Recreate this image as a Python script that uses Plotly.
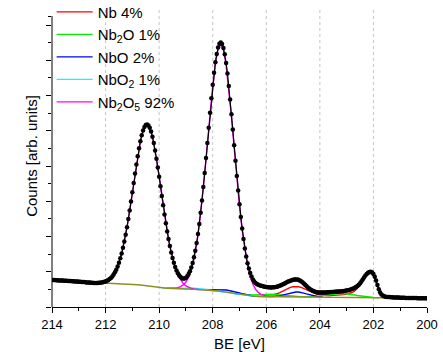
import numpy as np
import plotly.graph_objects as go

# ---------------- data (binding energy grid 214 -> 200 eV) ----------------
be_first, be_last = 214.0, 200.0

# measured spectrum, 0.05 eV steps (arb. units)
counts = [
    27.0, 26.9, 26.9, 26.8, 26.7, 26.6, 26.6, 26.5, 26.4, 26.3,
    26.3, 26.2, 26.1, 26.0, 25.9, 25.8, 25.7, 25.6, 25.5, 25.4,
    25.3, 25.2, 25.1, 25.0, 24.9, 24.7, 24.6, 24.5, 24.4, 24.3,
    24.2, 24.1, 24.1, 24.1, 24.1, 24.2, 24.3, 24.5, 24.8, 25.2,
    25.6, 26.2, 27.0, 28.0, 29.1, 30.6, 32.5, 34.7, 37.3, 40.6,
    44.3, 48.7, 53.6, 59.2, 65.4, 72.3, 79.8, 87.9, 96.5, 105.5,
    114.7, 124.1, 133.4, 142.4, 150.8, 158.8, 165.8, 171.7, 176.5, 180.0,
    182.0, 182.6, 181.6, 179.2, 175.4, 170.3, 164.0, 156.6, 148.3, 139.6,
    130.3, 120.8, 111.1, 101.7, 92.5, 83.7, 75.6, 67.9, 60.9, 54.6,
    49.1, 44.2, 40.0, 36.6, 33.7, 31.5, 29.9, 28.8, 28.5, 28.6,
    29.3, 30.7, 32.9, 35.8, 39.4, 44.0, 49.7, 56.2, 64.0, 72.9,
    83.1, 94.3, 106.5, 120.0, 134.1, 148.9, 164.1, 179.3, 194.3, 208.8,
    222.2, 234.3, 244.7, 253.1, 259.4, 263.2, 264.4, 263.0, 259.1, 252.7,
    244.1, 233.4, 221.0, 207.4, 192.7, 177.4, 161.8, 146.3, 131.1, 116.6,
    102.8, 90.1, 78.4, 67.9, 58.6, 50.6, 43.7, 38.5, 34.0, 30.5,
    27.5, 25.5, 24.0, 23.0, 22.3, 21.8, 21.3, 20.9, 20.5, 20.2,
    20.0, 19.8, 19.7, 19.6, 19.6, 19.7, 19.8, 20.0, 20.3, 20.7,
    21.2, 21.8, 22.4, 23.1, 23.8, 24.5, 25.2, 25.8, 26.3, 26.8,
    27.2, 27.5, 27.6, 27.5, 27.2, 26.6, 25.8, 24.7, 23.5, 22.2,
    20.9, 19.6, 18.5, 17.5, 16.7, 16.0, 15.5, 15.1, 14.8, 14.6,
    14.5, 14.4, 14.4, 14.4, 14.5, 14.6, 14.7, 14.8, 14.9, 15.0,
    15.1, 15.2, 15.3, 15.4, 15.5, 15.6, 15.7, 15.8, 16.0, 16.2,
    16.4, 16.7, 17.0, 17.4, 17.9, 18.5, 19.2, 20.0, 21.0, 22.3,
    23.8, 25.6, 27.5, 29.5, 31.4, 33.0, 34.2, 35.0, 35.3, 34.6,
    33.0, 30.3, 26.5, 22.0, 17.8, 14.6, 12.6, 11.4, 10.7, 10.3,
    10.1, 10.0, 9.9, 9.8, 9.7, 9.6, 9.5, 9.5, 9.4, 9.4,
    9.3, 9.3, 9.2, 9.2, 9.1, 9.1, 9.0, 9.0, 9.0, 8.9,
    8.9, 8.9, 8.9, 8.8, 8.8, 8.8, 8.8, 8.7, 8.7, 8.7,
    8.7,
]

# Shirley-type background, 0.1 eV steps
background = [
    27.0, 26.9, 26.7, 26.6, 26.4, 26.3, 26.1, 25.9, 25.7, 25.5,
    25.3, 25.1, 24.9, 24.6, 24.4, 24.2, 24.0, 23.8, 23.8, 23.8,
    23.8, 23.8, 23.7, 23.7, 23.6, 23.6, 23.5, 23.4, 23.2, 23.0,
    22.8, 22.6, 22.3, 22.0, 21.6, 21.3, 20.9, 20.5, 20.2, 19.8,
    19.5, 19.2, 19.0, 18.8, 18.6, 18.4, 18.3, 18.2, 18.1, 18.0,
    17.9, 17.8, 17.7, 17.6, 17.5, 17.4, 17.3, 17.2, 17.0, 16.8,
    16.6, 16.3, 16.0, 15.6, 15.2, 14.8, 14.3, 13.9, 13.4, 13.0,
    12.5, 12.0, 11.6, 11.2, 10.9, 10.7, 10.6, 10.5, 10.5, 10.4,
    10.4, 10.4, 10.4, 10.3, 10.3, 10.3, 10.3, 10.2, 10.2, 10.2,
    10.2, 10.1, 10.1, 10.1, 10.0, 10.0, 10.0, 10.0, 9.9, 9.9,
    9.9, 9.9, 9.8, 9.8, 9.7, 9.7, 9.7, 9.6, 9.6, 9.6,
    9.6, 9.5, 9.5, 9.5, 9.5, 9.5, 9.4, 9.4, 9.4, 9.3,
    9.3, 9.2, 9.2, 9.1, 9.1, 9.1, 9.1, 9.0, 9.0, 9.0,
    9.0, 9.0, 8.9, 8.9, 8.9, 8.9, 8.9, 8.8, 8.8, 8.8,
    8.8,
]

# fitted components (height above background), 0.1 eV steps from the given start BE
nb2o5_32_from = 212.4
nb2o5_32 = [
    0.14, 0.27, 0.54, 1.0, 1.8, 3.2, 5.4, 8.8, 13.7, 20.7,
    30.1, 42.0, 56.6, 73.5, 91.9, 110.8, 128.5, 143.8, 154.9, 160.7,
    160.7, 154.9, 143.8, 128.5, 110.8, 91.9, 73.5, 56.6, 42.0, 30.1,
    20.7, 13.7, 8.8, 5.4, 3.2, 1.8, 1.0, 0.54, 0.27, 0.14,
]
nb2o5_52_from = 209.7
nb2o5_52 = [
    0.06, 0.13, 0.28, 0.58, 1.15, 2.2, 4.1, 7.1, 12.1, 19.5,
    30.4, 45.2, 64.6, 88.4, 116.1, 146.3, 176.6, 204.5, 227.1, 241.9,
    247.0, 241.9, 227.1, 204.5, 176.6, 146.3, 116.1, 88.4, 64.6, 45.2,
    30.4, 19.5, 12.1, 7.1, 4.1, 2.2, 1.15, 0.58, 0.28, 0.13,
    0.06,
]
nb_from = 206.5
nb_metal = [
    0.2, 0.2, 0.2, 0.3, 0.4, 0.6, 0.9, 1.4, 2.0, 2.9,
    4.0, 5.4, 6.8, 8.2, 9.4, 10.1, 10.4, 10.2, 9.5, 8.4,
    7.1, 5.8, 4.6, 3.6, 2.8, 2.3, 1.9, 1.8, 1.7, 1.7,
    1.8, 2.0, 2.2, 2.5, 2.8, 3.3, 4.0, 5.0, 6.5, 8.8,
    12.0, 16.2, 21.5, 24.0, 25.2, 23.5, 15.6, 6.7, 2.8, 1.4,
    0.9, 0.7, 0.5, 0.4, 0.35, 0.3, 0.25, 0.2, 0.15, 0.1, 0.1,
]
nbo_from = 208.6
nbo = [
    0.08, 0.14, 0.22, 0.34, 0.51, 0.72, 0.96, 1.24, 1.5, 1.8,
    2.0, 2.15, 2.2, 2.15, 2.0, 1.8, 1.5, 1.24, 0.96, 0.72,
    0.51, 0.34, 0.22, 0.14, 0.08, 0.05, 0.06, 0.09, 0.15, 0.3,
    0.6, 1.0, 1.6, 2.3, 3.1, 3.9, 4.6, 4.95, 4.95, 4.6,
    3.9, 3.1, 2.3, 1.6, 1.0, 0.6, 0.3, 0.15,
]
nb2o_from = 207.2
nb2o = [
    0.12, 0.2, 0.3, 0.44, 0.62, 0.85, 1.1, 1.4, 1.7, 1.97,
    2.2, 2.4, 2.49, 2.49, 2.4, 2.2, 1.97, 1.7, 1.4, 1.1,
    0.85, 0.62, 0.44, 0.3, 0.23, 0.17, 0.17, 0.2, 0.25, 0.39,
    0.58, 0.84, 1.17, 1.56, 2.0, 2.47, 2.94, 3.37, 3.71, 3.92,
    4.0, 3.92, 3.71, 3.37, 2.94, 2.47, 2.0, 1.56, 1.17, 0.84,
    0.58, 0.39, 0.25, 0.15, 0.09,
]
nbo2_from = 209.9
nbo2 = [
    0.03, 0.05, 0.1, 0.18, 0.28, 0.43, 0.6, 0.79, 0.97, 1.11,
    1.19, 1.19, 1.11, 0.97, 0.79, 0.6, 0.43, 0.28, 0.18, 0.1,
    0.05, 0.03, 0.02, 0.01, 0.01, 0.01, 0.01, 0.02, 0.03, 0.06,
    0.11, 0.19, 0.29, 0.42, 0.58, 0.73, 0.87, 0.97, 1.0, 0.97,
    0.87, 0.73, 0.58, 0.42, 0.29, 0.19, 0.11, 0.06, 0.03,
]

x_ticks = [214, 212, 210, 208, 206, 204, 202, 200]
grid_at = [212, 210, 208, 206, 204, 202]
y_major = [0, 35.25, 70.5, 105.75, 141, 176.25, 211.5, 246.75, 282]
y_minor = [17.6, 52.9, 88.1, 123.4, 158.6, 193.9, 229.1, 264.4, 291]
y_axis_top = 291
y_top = 302

# ---------------- build ----------------
be_data = np.linspace(be_first, be_last, len(counts))
be_fit = np.linspace(be_first, be_last, len(background))
bg = np.array(background)


def component(start, values):
    i0 = int(round((be_first - start) * 10))
    n = min(len(values), len(bg) - i0)
    return be_fit[i0:i0 + n], np.array(values[:n]) + bg[i0:i0 + n]


FONT = "Arial, Liberation Sans, sans-serif"
fig = go.Figure()

comps = [
    ("Nb 4%", nb_from, nb_metal, "#ff0000", True),
    ("Nb<sub>2</sub>O 1%", nb2o_from, nb2o, "#00ee00", True),
    ("NbO 2%", nbo_from, nbo, "#0000ff", True),
    ("NbO<sub>2</sub> 1%", nbo2_from, nbo2, "#00ffff", True),
    ("Nb<sub>2</sub>O<sub>5</sub> 92%", nb2o5_52_from, nb2o5_52, "#ff00ff", True),
    ("Nb<sub>2</sub>O<sub>5</sub> 3d3/2", nb2o5_32_from, nb2o5_32, "#ff00ff", False),
]
for name, start, vals, col, show in comps:
    xx, yy = component(start, vals)
    fig.add_trace(go.Scatter(x=xx, y=yy, mode="lines", name=name, showlegend=show,
                             line=dict(color=col, width=1.4)))

fig.add_trace(go.Scatter(x=be_fit, y=bg, mode="lines", name="background", showlegend=False,
                         line=dict(color="#8f8f1f", width=1.4)))
fig.add_trace(go.Scatter(x=be_data, y=counts, mode="lines+markers", name="data", showlegend=False,
                         line=dict(color="black", width=1.2),
                         marker=dict(color="black", size=4.5)))

for g in grid_at:
    fig.add_shape(type="line", x0=g, x1=g, xref="x", yref="paper", y0=0, y1=(y_top - 2) / y_top,
                  line=dict(color="#c4c4c4", width=1, dash="dot"), layer="below")
# left axis line (ends at the top tick)
fig.add_shape(type="line", xref="paper", yref="paper", x0=0, x1=0, y0=0, y1=y_axis_top / y_top,
              line=dict(color="black", width=1))

fig.update_layout(
    width=443, height=352,
    margin=dict(l=52, r=16, t=5, b=45, autoexpand=False),
    paper_bgcolor="white", plot_bgcolor="white",
    font=dict(family=FONT, size=13, color="black"),
    showlegend=True,
    legend=dict(x=-0.001, y=1.031, xanchor="left", yanchor="top", bgcolor="rgba(0,0,0,0)",
                font=dict(family=FONT, size=15, color="black"), tracegroupgap=0, itemwidth=36),
    xaxis=dict(range=[214, 200], tickvals=x_ticks, ticks="outside", ticklen=5, tickwidth=1,
               tickcolor="black", showline=True, linecolor="black", linewidth=1,
               showgrid=False, zeroline=False, automargin=False,
               minor=dict(dtick=1, tick0=200, ticks="outside", ticklen=3, tickcolor="black", showgrid=False),
               tickfont=dict(family=FONT, size=13, color="black"),
               title=dict(text="BE [eV]", font=dict(family=FONT, size=15, color="black"), standoff=8)),
    yaxis=dict(range=[0, y_top], tickmode="array", tickvals=y_major, ticks="outside", ticklen=5,
               tickwidth=1, tickcolor="black", showticklabels=False, showline=False,
               showgrid=False, zeroline=False, automargin=False,
               minor=dict(tickmode="array", tickvals=y_minor, ticks="outside", ticklen=3,
                          tickcolor="black", showgrid=False),
               title=dict(text="Counts [arb. units]", font=dict(family=FONT, size=15, color="black"),
                          standoff=4)),
)

fig.write_html("out.html", config={"displayModeBar": False},
               post_script="document.body.style.margin='0px';")
